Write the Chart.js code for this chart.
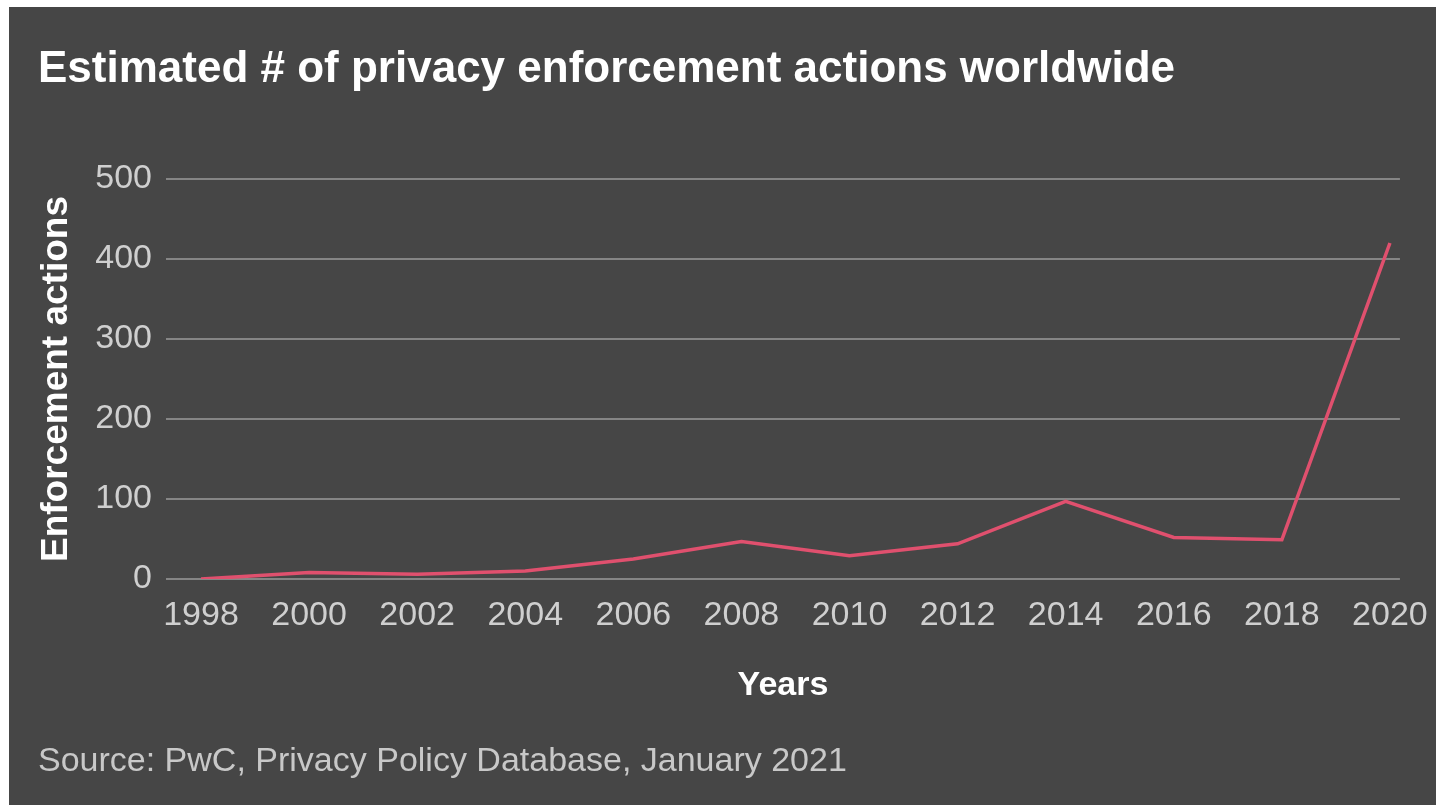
<!DOCTYPE html>
<html>
<head>
<meta charset="utf-8">
<script src="https://cdn.jsdelivr.net/npm/chart.js@4.4.0/dist/chart.umd.min.js"></script>
<style>
  body { margin: 0; background: #ffffff; }
  #wrap { position: absolute; left: 9px; top: 7px; width: 1427px; height: 798px; background: #464646; }
</style>
</head>
<body>
<div id="wrap"><canvas id="chart"></canvas></div>
<script>
// Data
const years = [1998, 2000, 2002, 2004, 2006, 2008, 2010, 2012, 2014, 2016, 2018, 2020];
const actions = [0, 8, 6, 10, 25, 47, 29, 44, 97, 52, 49, 420];
const yTicks = [0, 100, 200, 300, 400, 500];

const FONT = '"Liberation Sans", Arial, Helvetica, sans-serif';

const ctx = document.getElementById('chart').getContext('2d');
const chart = new Chart(ctx, {
    type: 'line',
    data: {
        datasets: [{
            label: 'Enforcement actions',
            data: years.map((y, i) => ({ x: y, y: actions[i] })),
            borderColor: '#e0506e',
            borderWidth: 3.5,
            pointRadius: 0,
            tension: 0,
            fill: false
        }]
    },
    options: {
        responsive: true,
        maintainAspectRatio: false,
        animation: false,
        layout: { padding: { left: 29, top: 0, right: 31, bottom: 0 } },
        plugins: {
            legend: { display: false },
            tooltip: { enabled: false },
            title: {
                display: true,
                text: 'Estimated # of privacy enforcement actions worldwide',
                align: 'start',
                color: '#ffffff',
                font: { family: FONT, size: 44, weight: 'bold', lineHeight: 1.2 },
                padding: { top: 36.6, bottom: 82.6 }
            },
            subtitle: {
                display: true,
                position: 'bottom',
                text: 'Source: PwC, Privacy Policy Database, January 2021',
                align: 'start',
                color: '#c8c8c8',
                font: { family: FONT, size: 34, weight: 'normal', lineHeight: 1.2 },
                padding: { top: 0, bottom: 22.6 }
            }
        },
        scales: {
            x: {
                type: 'linear',
                min: 1997.352,
                max: 2020.185,
                afterBuildTicks: (scale) => {
                    scale.ticks = years.map(v => ({ value: v }));
                },
                afterFit: (scale) => { scale.height = 162.6; },
                grid: { display: false },
                border: { display: false },
                ticks: {
                    color: '#cfcfcf',
                    font: { family: FONT, size: 34 },
                    padding: 8,
                    maxRotation: 0,
                    autoSkip: false,
                    callback: (v) => String(v)
                },
                title: {
                    display: true,
                    text: 'Years',
                    color: '#ffffff',
                    font: { family: FONT, size: 34, weight: 'bold', lineHeight: 1.2 },
                    padding: { top: 0, bottom: 35.2 }
                }
            },
            y: {
                min: 0,
                max: 500,
                afterBuildTicks: (scale) => {
                    scale.ticks = yTicks.map(v => ({ value: v }));
                },
                afterFit: (scale) => { scale.width = 128; },
                grid: { color: '#858585', lineWidth: 2, drawTicks: false },
                border: { display: false },
                ticks: {
                    color: '#cfcfcf',
                    font: { family: FONT, size: 34 },
                    padding: 14
                },
                title: {
                    display: true,
                    text: 'Enforcement actions',
                    color: '#ffffff',
                    font: { family: FONT, size: 37, weight: 'bold', lineHeight: 1 },
                    padding: { top: 0, bottom: 0 }
                }
            }
        }
    }
});
</script>
</body>
</html>
